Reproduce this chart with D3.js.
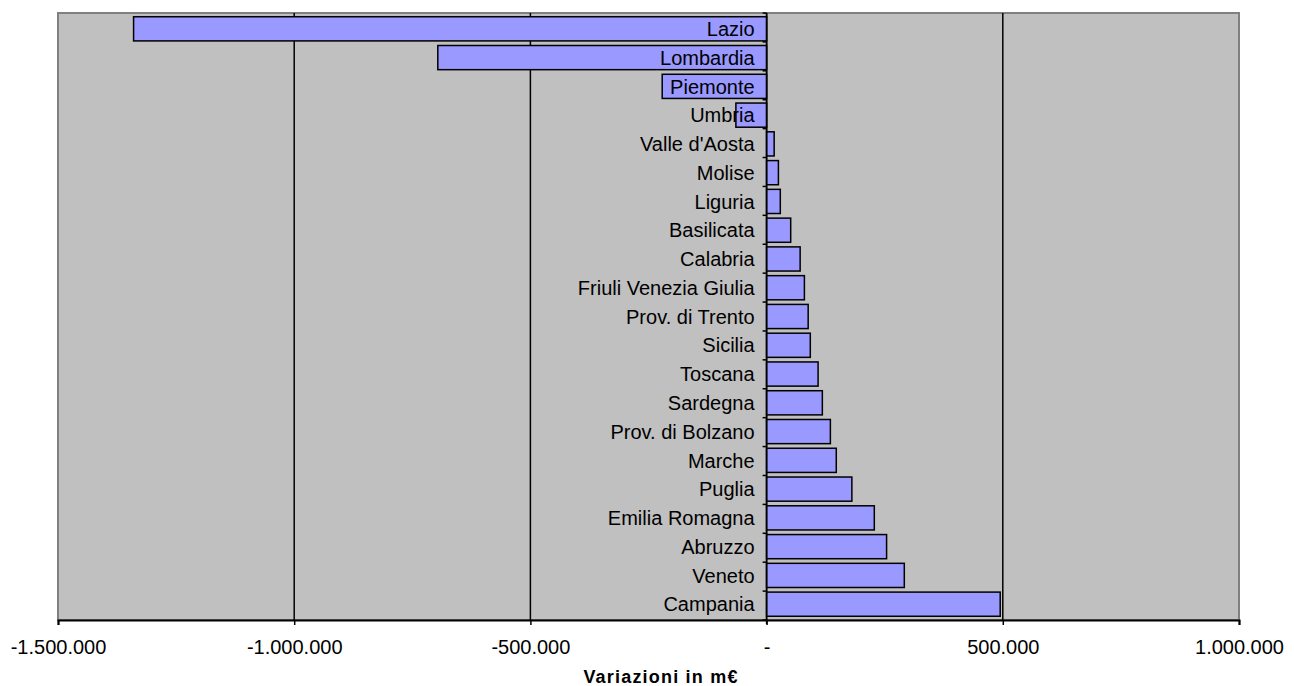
<!DOCTYPE html>
<html>
<head>
<meta charset="utf-8">
<script src="https://cdn.jsdelivr.net/npm/d3@7"></script>
<style>
  body { margin: 0; background: #fff; }
  text { font-family: "Liberation Sans", Arial, sans-serif; }
</style>
</head>
<body>
<div id="chart"></div>
<script>
var regions = ['Lazio', 'Lombardia', 'Piemonte', 'Umbria', "Valle d'Aosta", 'Molise', 'Liguria',
  'Basilicata', 'Calabria', 'Friuli Venezia Giulia', 'Prov. di Trento', 'Sicilia', 'Toscana',
  'Sardegna', 'Prov. di Bolzano', 'Marche', 'Puglia', 'Emilia Romagna', 'Abruzzo', 'Veneto', 'Campania'];

var variazioni = [-1340000, -696000, -221000, -65000, 16000, 25000, 29000,
  51000, 71000, 80000, 88000, 92500, 109000,
  118000, 135000, 147500, 180500, 228000, 254000, 291500, 494500];

var xTicks = [-1500000, -1000000, -500000, 0, 500000, 1000000];
var xTitle = 'Variazioni in m€';

var width = 1294, height = 686;
var margin = {top: 13, right: 55, bottom: 66, left: 58};

var it = d3.formatLocale({decimal: ',', thousands: '.', grouping: [3], currency: ['', '€'], minus: '-'});
var fmt = function(d) { return d === 0 ? '-' : it.format(',')(d); };

var svg = d3.select('#chart').append('svg')
  .attr('width', width)
  .attr('height', height);

var x = d3.scaleLinear()
  .domain([-1500000, 1000000])
  .range([margin.left, width - margin.right]);

var y = d3.scaleBand()
  .domain(regions)
  .range([margin.top, height - margin.bottom])
  .paddingInner(0.16)
  .paddingOuter(0.13);

// plot background
svg.append('rect')
  .attr('x', margin.left)
  .attr('y', margin.top)
  .attr('width', x.range()[1] - x.range()[0])
  .attr('height', height - margin.bottom - margin.top)
  .style('fill', '#c0c0c0')
  .style('stroke', '#808080')
  .style('stroke-width', 2);

// vertical gridlines
svg.append('g').selectAll('line')
  .data(xTicks.slice(1, -1))
  .enter().append('line')
  .attr('x1', function(d) { return x(d); })
  .attr('x2', function(d) { return x(d); })
  .attr('y1', margin.top)
  .attr('y2', height - margin.bottom)
  .style('stroke', '#000')
  .style('stroke-width', 1.5);

// bars
svg.append('g').selectAll('rect')
  .data(regions)
  .enter().append('rect')
  .attr('x', function(d, i) { return Math.min(x(0), x(variazioni[i])); })
  .attr('y', function(d) { return y(d); })
  .attr('width', function(d, i) { return Math.abs(x(variazioni[i]) - x(0)); })
  .attr('height', y.bandwidth())
  .style('fill', '#9999ff')
  .style('stroke', '#000')
  .style('stroke-width', 1.5);

// category axis on zero
var yAxis = svg.append('g')
  .attr('transform', 'translate(' + x(0) + ',0)');
yAxis.append('line')
  .attr('x1', 0).attr('x2', 0)
  .attr('y1', margin.top).attr('y2', height - margin.bottom + 4)
  .style('stroke', '#000')
  .style('stroke-width', 1.5);
var bounds = d3.range(regions.length + 1).map(function(i) {
  return margin.top + i * (height - margin.bottom - margin.top) / regions.length;
});
yAxis.selectAll('line.tick')
  .data(bounds)
  .enter().append('line')
  .attr('class', 'tick')
  .attr('x1', -4).attr('x2', 0)
  .attr('y1', function(d) { return d; })
  .attr('y2', function(d) { return d; })
  .style('stroke', '#000')
  .style('stroke-width', 1.5);
yAxis.selectAll('text')
  .data(regions)
  .enter().append('text')
  .attr('x', -12)
  .attr('y', function(d) { return y(d) + y.bandwidth() / 2; })
  .attr('dy', '0.36em')
  .attr('text-anchor', 'end')
  .style('font-size', '20px')
  .style('fill', '#000')
  .text(function(d) { return d; });

// x axis
var xAxis = d3.axisBottom(x)
  .tickValues(xTicks)
  .tickFormat(fmt)
  .tickSize(5)
  .tickPadding(15);

var gx = svg.append('g')
  .attr('transform', 'translate(0,' + (height - margin.bottom) + ')')
  .call(xAxis);
gx.select('.domain').style('stroke', '#000').style('stroke-width', 2);
gx.selectAll('.tick line').style('stroke', '#000').style('stroke-width', 1.5);
gx.selectAll('.tick text')
  .style('font-size', '20px')
  .style('fill', '#000')
  .style('font-family', '"Liberation Sans", Arial, sans-serif');

svg.append('text')
  .attr('x', 661)
  .attr('y', 683)
  .attr('text-anchor', 'middle')
  .style('font-size', '18px')
  .style('font-weight', 'bold')
  .style('letter-spacing', '1.2px')
  .text(xTitle);
</script>
</body>
</html>
